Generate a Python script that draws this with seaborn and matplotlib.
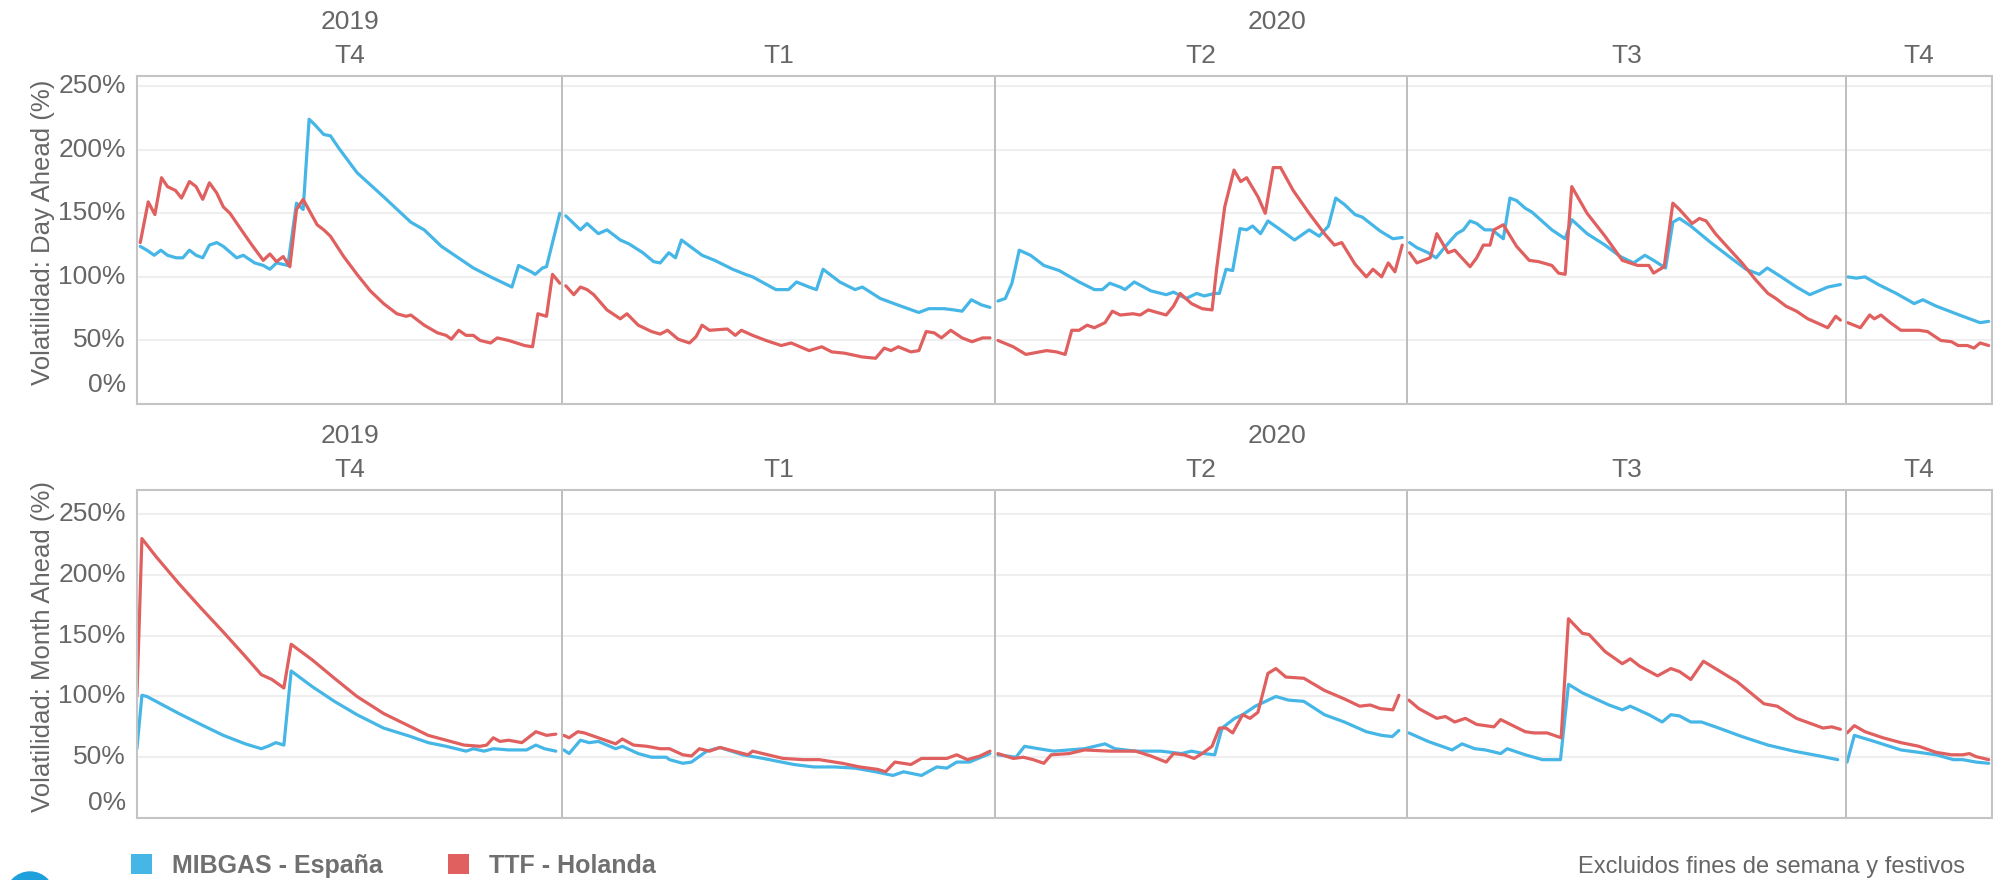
import numpy as np
import pandas as pd
import matplotlib
matplotlib.use('Agg')
import matplotlib.pyplot as plt
import matplotlib.transforms as mtransforms
from matplotlib.patches import Patch, Circle
import seaborn as sns

# Datos: volatilidad diaria (dia habil, %)
mercados = ['MIBGAS - España', 'TTF - Holanda']
colores = ['#45B6E6', '#E0605F']
trimestres = ['T4', 'T1', 'T2', 'T3', 'T4']
anios = ['2019', '2020']
dias_trimestre = [64, 65, 62, 66, 22]   # dias habiles en cada trimestre
ticks_y = [0, 50, 100, 150, 200, 250]

mibgas_day_ahead = [
    # T4 2019
    (0.5, 124), (1.5, 121), (2.6, 117), (3.6, 121), (4.6, 117), (5.9, 115), (6.9, 115), (7.9, 121),
    (8.9, 117), (9.9, 115), (10.9, 125), (12.0, 127), (13.0, 124), (15.0, 115), (16.0, 117), (17.7, 111),
    (19.0, 109), (20.0, 106), (21.0, 111), (22.7, 109), (24.0, 158), (25.0, 153), (25.9, 224), (26.7, 220),
    (28.1, 212), (29.1, 211), (30.4, 201), (33.1, 182), (37.1, 163), (41.2, 143), (43.2, 137), (45.8, 124),
    (50.6, 107), (53.2, 100), (56.4, 92), (57.4, 109), (59.3, 104), (59.9, 102), (61.0, 107), (61.6, 108),
    (63.6, 150),
    # T1 2020
    (64.5, 148), (65.7, 142), (66.7, 137), (67.7, 142), (69.4, 134), (70.7, 137), (72.7, 129), (74.0, 126),
    (76.1, 119), (77.7, 112), (78.7, 111), (80.0, 119), (81.0, 115), (81.9, 129), (85.0, 117), (86.9, 113),
    (89.6, 106), (91.5, 102), (92.6, 100), (96.1, 90), (98.0, 90), (99.2, 96), (101.1, 92), (102.2, 90),
    (103.2, 106), (105.7, 96), (108.0, 90), (109.1, 92), (111.8, 83), (114.9, 77), (117.6, 72), (119.1, 75),
    (120.3, 75), (121.4, 75), (122.9, 74), (124.1, 73), (125.5, 82), (127.0, 78), (128.3, 76),
    # T2 2020
    (129.5, 81), (130.6, 83), (131.6, 95), (132.7, 121), (134.4, 117), (136.4, 109), (138.7, 105), (141.7, 96),
    (144.0, 90), (145.2, 90), (146.3, 95), (147.9, 92), (148.6, 90), (150.0, 96), (152.5, 89), (154.8, 86),
    (155.9, 88), (157.8, 83), (159.4, 87), (160.5, 85), (162.1, 87), (162.8, 87), (163.8, 106), (164.8, 105),
    (165.9, 138), (166.9, 137), (167.8, 140), (169.0, 134), (170.1, 144), (172.0, 137), (174.1, 129),
    (176.3, 137), (177.8, 132), (179.2, 140), (180.3, 162), (181.6, 157), (183.2, 149), (184.3, 147),
    (187.0, 136), (188.9, 130), (190.3, 131),
    # T3 2020
    (191.4, 127), (192.5, 123), (194.2, 119), (195.4, 115), (196.8, 124), (198.5, 134), (199.5, 137),
    (200.5, 144), (201.5, 142), (202.7, 137), (203.8, 137), (205.5, 130), (206.5, 162), (207.5, 160),
    (208.8, 154), (209.8, 151), (212.8, 137), (214.8, 130), (215.8, 145), (218.1, 134), (220.8, 125),
    (223.1, 116), (225.1, 111), (226.8, 117), (228.1, 113), (229.9, 107), (231.0, 143), (232.0, 146),
    (233.7, 140), (236.7, 127), (239.7, 115), (242.0, 106), (244.0, 102), (245.2, 107), (247.3, 100),
    (249.6, 92), (251.6, 86), (254.3, 92), (256.2, 94),
    # T4 2020
    (257.3, 100), (258.6, 99), (259.9, 100), (261.9, 94), (264.6, 87), (267.3, 79), (268.6, 82),
    (270.6, 77), (274.6, 69), (277.2, 64), (278.5, 65),
]

ttf_day_ahead = [
    # T4 2019
    (0.5, 127), (1.7, 159), (2.7, 149), (3.7, 178), (4.6, 171), (5.8, 168), (6.7, 162), (7.9, 175),
    (8.9, 171), (9.9, 161), (10.9, 174), (12.0, 166), (13.0, 155), (14.0, 150), (15.7, 137), (17.3, 125),
    (19.0, 113), (20.0, 118), (21.0, 112), (22.0, 116), (23.0, 108), (24.0, 153), (25.0, 161), (27.1, 141),
    (28.1, 137), (29.1, 132), (31.1, 116), (33.1, 102), (35.1, 89), (37.1, 79), (39.1, 71), (40.5, 69),
    (41.2, 70), (43.2, 62), (45.2, 56), (46.5, 54), (47.3, 51), (48.4, 58), (49.5, 54), (50.6, 54),
    (51.6, 50), (53.2, 48), (54.2, 52), (55.9, 50), (58.3, 46), (59.5, 45), (60.3, 71), (61.6, 69),
    (62.5, 102), (63.6, 95),
    # T1 2020
    (64.5, 93), (65.7, 86), (66.7, 92), (67.7, 90), (68.7, 86), (70.7, 74), (72.7, 67), (73.7, 71),
    (75.4, 62), (77.4, 57), (78.7, 55), (79.8, 58), (81.4, 51), (83.1, 48), (84.1, 53), (85.0, 62),
    (86.1, 58), (88.8, 59), (90.0, 54), (90.9, 58), (92.6, 54), (94.6, 50), (96.9, 46), (98.4, 48),
    (101.1, 42), (103.0, 45), (104.5, 41), (106.4, 40), (109.1, 37), (111.1, 36), (112.4, 44), (113.4, 42),
    (114.5, 45), (116.4, 41), (117.6, 42), (118.7, 57), (119.9, 56), (121.0, 52), (122.4, 58), (124.1, 52),
    (125.6, 49), (127.2, 52), (128.3, 52),
    # T2 2020
    (129.5, 50), (131.8, 45), (133.7, 39), (136.8, 42), (138.3, 41), (139.6, 39), (140.6, 58), (141.7, 58),
    (142.9, 62), (144.0, 60), (145.6, 64), (146.7, 73), (147.9, 70), (149.8, 71), (150.9, 70), (152.1, 74),
    (154.8, 70), (155.9, 77), (156.9, 87), (158.6, 79), (160.2, 75), (161.7, 74), (162.4, 107), (163.6, 155),
    (165.0, 184), (166.0, 175), (166.9, 178), (168.6, 163), (169.7, 150), (170.9, 186), (172.0, 186),
    (173.9, 168), (176.3, 150), (178.6, 134), (180.1, 125), (181.2, 127), (183.2, 110), (184.9, 100),
    (185.9, 106), (187.2, 100), (188.2, 111), (189.2, 104), (190.3, 125),
    # T3 2020
    (191.4, 119), (192.5, 111), (194.5, 115), (195.5, 134), (197.2, 119), (198.2, 121), (200.5, 108),
    (201.5, 115), (202.5, 125), (203.5, 125), (204.1, 137), (205.5, 141), (207.5, 124), (209.4, 113),
    (210.8, 112), (212.8, 109), (213.8, 103), (214.8, 102), (215.8, 171), (218.1, 150), (220.8, 132),
    (223.4, 113), (225.7, 109), (227.4, 109), (228.1, 103), (229.7, 108), (231.0, 158), (232.0, 153),
    (233.9, 142), (235.0, 146), (236.0, 144), (237.4, 134), (239.3, 123), (241.4, 111), (243.4, 98),
    (245.3, 87), (246.5, 83), (248.0, 77), (249.6, 73), (251.3, 67), (252.6, 64), (254.3, 60),
    (255.5, 69), (256.2, 66),
    # T4 2020
    (257.3, 64), (259.2, 60), (260.6, 70), (261.3, 67), (262.3, 70), (263.7, 64), (265.3, 58), (268.0, 58),
    (269.3, 57), (271.3, 50), (272.9, 49), (273.9, 46), (275.3, 46), (276.3, 44), (277.2, 48), (278.5, 46),
]

mibgas_month_ahead = [
    # T4 2019
    (0.0, 57), (0.75, 101), (1.5, 100), (6.3, 86), (9.6, 77), (13.0, 68), (16.3, 61), (18.7, 57),
    (19.7, 59), (20.9, 62), (22.1, 60), (23.2, 121), (26.4, 108), (29.7, 96), (33.1, 85), (37.1, 74),
    (41.2, 67), (43.8, 62), (46.5, 59), (49.5, 55), (50.6, 57), (52.2, 55), (53.6, 57), (55.9, 56),
    (58.6, 56), (60.0, 60), (61.3, 57), (63.0, 55),
    # T1 2020
    (64.2, 56), (65.0, 53), (66.7, 64), (68.0, 62), (69.4, 63), (72.0, 57), (73.0, 59), (75.4, 53),
    (77.4, 50), (79.6, 50), (80.1, 48), (82.1, 45), (83.4, 46), (85.7, 55), (87.7, 58), (91.1, 52),
    (94.2, 49), (98.8, 44), (101.8, 42), (104.9, 42), (108.0, 41), (111.1, 38), (113.7, 35), (115.3, 38),
    (118.0, 35), (120.3, 42), (121.8, 41), (123.3, 46), (125.2, 46), (128.3, 53),
    # T2 2020
    (129.5, 52), (132.2, 50), (133.5, 59), (135.6, 57), (137.9, 55), (140.2, 56), (142.5, 57), (145.6, 61),
    (147.1, 57), (150.2, 55), (154.0, 55), (157.1, 53), (158.6, 55), (160.5, 53), (162.1, 52), (163.2, 74),
    (165.1, 82), (166.3, 85), (168.2, 92), (171.3, 100), (173.2, 97), (175.5, 96), (178.6, 85), (181.6, 79),
    (184.9, 71), (187.2, 68), (188.8, 67), (189.8, 72),
    # T3 2020
    (191.3, 70), (194.2, 63), (197.8, 56), (199.3, 61), (201.2, 57), (202.8, 56), (205.1, 53), (206.1, 57),
    (208.8, 52), (211.4, 48), (214.1, 48), (215.3, 110), (217.4, 103), (221.4, 93), (223.4, 89),
    (224.6, 92), (227.4, 85), (229.4, 79), (230.7, 85), (232.0, 84), (233.7, 79), (235.3, 79),
    (237.4, 75), (241.4, 67), (245.3, 60), (249.2, 55), (253.1, 51), (255.8, 48),
    # T4 2020
    (257.2, 46), (258.3, 68), (261.3, 63), (265.3, 56), (268.0, 54), (270.6, 52), (273.2, 48),
    (274.6, 48), (276.6, 46), (278.5, 45),
]

ttf_month_ahead = [
    # T4 2019
    (0.0, 100), (0.75, 230), (2.9, 215), (6.3, 193), (9.6, 173), (13.0, 153), (16.3, 133), (18.7, 118),
    (20.3, 114), (22.1, 107), (23.2, 143), (26.4, 130), (29.7, 115), (33.1, 100), (37.1, 86), (41.2, 75),
    (43.8, 68), (46.5, 64), (49.2, 60), (51.6, 59), (52.6, 60), (53.6, 66), (54.6, 63), (55.9, 64),
    (57.9, 62), (60.0, 71), (61.6, 68), (63.0, 69),
    # T1 2020
    (64.2, 68), (65.0, 66), (66.3, 71), (67.3, 70), (69.4, 66), (72.0, 61), (73.0, 65), (74.7, 60),
    (76.7, 59), (78.7, 57), (80.1, 57), (82.1, 52), (83.4, 51), (84.6, 57), (86.1, 55), (87.7, 58),
    (91.9, 52), (92.6, 55), (97.2, 49), (100.3, 48), (102.6, 48), (106.1, 45), (108.7, 42), (111.4, 40),
    (112.6, 38), (114.0, 46), (116.4, 44), (118.0, 49), (121.8, 49), (123.3, 52), (124.9, 48),
    (126.8, 51), (128.3, 55),
    # T2 2020
    (129.5, 53), (131.8, 49), (133.3, 50), (134.8, 48), (136.4, 45), (137.5, 52), (140.2, 53), (142.5, 56),
    (146.3, 55), (150.2, 55), (152.5, 51), (154.8, 46), (155.9, 53), (157.5, 52), (159.0, 49), (160.2, 53),
    (161.7, 59), (162.8, 74), (163.8, 74), (164.8, 70), (166.3, 85), (167.4, 82), (168.6, 87), (170.1, 119),
    (171.3, 123), (172.8, 116), (175.5, 115), (178.6, 105), (181.6, 98), (183.9, 92), (185.5, 93),
    (187.0, 90), (188.9, 89), (189.8, 101),
    # T3 2020
    (191.3, 97), (192.8, 90), (195.5, 82), (196.8, 83.5), (198.2, 79), (199.8, 82), (201.5, 77),
    (204.1, 75), (205.1, 81), (208.8, 71), (210.1, 70), (212.1, 70), (214.2, 66), (215.3, 164),
    (217.4, 152), (218.4, 151), (220.8, 137), (223.4, 127), (224.6, 131), (226.0, 125), (228.7, 117),
    (230.7, 123), (232.0, 120.5), (233.7, 114), (235.6, 129), (237.4, 123), (240.7, 112), (244.7, 94),
    (246.7, 92), (249.6, 82), (253.6, 74), (254.9, 75), (256.2, 73),
    # T4 2020
    (257.2, 70), (258.3, 76), (259.9, 71), (262.6, 66), (265.3, 62), (268.0, 59), (270.6, 54),
    (272.9, 52), (274.6, 52), (275.6, 53), (276.6, 50.5), (278.5, 48),
]

limites = np.concatenate([[0], np.cumsum(dias_trimestre)])


def armar_df(series):
    partes = []
    for mercado, pares in zip(mercados, series):
        df = pd.DataFrame(pares, columns=['dia', 'vol'])
        df['mercado'] = mercado
        df['trimestre'] = pd.cut(df['dia'], bins=limites, right=False, labels=False)
        partes.append(df)
    return pd.concat(partes, ignore_index=True)


sns.set_theme(style='white')
plt.rcParams['font.family'] = ['Liberation Sans', 'DejaVu Sans']

GRIS = '#666666'
fig = plt.figure(figsize=(19.93, 8.8), dpi=100)
ax_da = fig.add_axes([0.0687, 0.5409, 0.9308, 0.3727])
ax_ma = fig.add_axes([0.0687, 0.0705, 0.9308, 0.3727])

paneles = [
    (ax_da, armar_df([mibgas_day_ahead, ttf_day_ahead]), 'Volatilidad: Day Ahead (%)', 258, 15),
    (ax_ma, armar_df([mibgas_month_ahead, ttf_month_ahead]), 'Volatilidad: Month Ahead (%)', 270, 12),
]

for ax, df, titulo, ymax, off0 in paneles:
    sns.lineplot(data=df, x='dia', y='vol', hue='mercado', hue_order=mercados, units='trimestre',
                 estimator=None, palette=colores, lw=2.3, legend=False, ax=ax)
    ax.set_xlim(limites[0], limites[-1])
    ax.set_ylim(0, ymax)
    ax.set_xticks([])
    ax.set_yticks(ticks_y)
    ax.set_yticklabels([])
    ax.tick_params(length=0)
    ax.set_xlabel('')
    ax.grid(axis='y', color='#efefef', lw=1.5)
    ax.grid(axis='x', visible=False)
    for s in ax.spines.values():
        s.set_color('#c4c4c4')
        s.set_linewidth(1.5)
    for b in limites[1:-1]:
        ax.axvline(b, color='#b9b9b9', lw=1.3)

    # etiquetas del eje y (0% desplazado hacia arriba como en Tableau)
    for v in ticks_y:
        ax.text(-0.006, v if v else off0, f'{v}%', transform=ax.get_yaxis_transform(),
                ha='right', va='center', fontsize=19, color=GRIS)
    ax.set_ylabel(titulo, fontsize=18.5, color=GRIS)
    ax.yaxis.set_label_coords(-0.0442, 0.524)

    # cabeceras: anio y trimestre
    centros = (limites[:-1] + limites[1:]) / 2
    for c, t in zip(centros, trimestres):
        ax.text(c, 1.06, t, transform=ax.get_xaxis_transform(), ha='center', va='center',
                fontsize=19, color=GRIS)
    ax.text(centros[0], 1.165, anios[0], transform=ax.get_xaxis_transform(), ha='center',
            va='center', fontsize=19, color=GRIS)
    ax.text((limites[1] + limites[-1]) / 2, 1.165, anios[1], transform=ax.get_xaxis_transform(),
            ha='center', va='center', fontsize=19, color=GRIS)

# leyenda
handles = [Patch(facecolor=c, edgecolor='none', label=m) for m, c in zip(mercados, colores)]
fig.legend(handles=handles, loc='center left', bbox_to_anchor=(0.0657, 0.0159), ncol=2,
           frameon=False, prop={'size': 18, 'weight': 'bold'}, labelcolor='#707070',
           handlelength=0.85, handleheight=0.85, handletextpad=0.8, columnspacing=2.6,
           borderpad=0, borderaxespad=0)

fig.text(1578 / 1993, 2 / 880, 'Excluidos fines de semana y festivos', ha='left', va='bottom',
         fontsize=17, color=GRIS)

# logo cortado abajo a la izquierda
fig.add_artist(Circle((30, -16), 24, color='#1ea0dc', transform=mtransforms.IdentityTransform()))

fig.savefig('out.png', dpi=100)
